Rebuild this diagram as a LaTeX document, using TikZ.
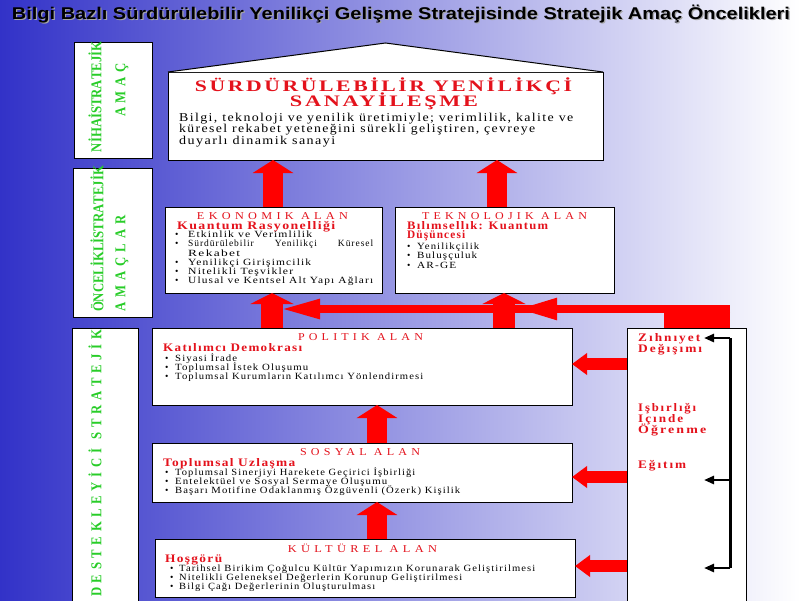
\documentclass[tikz,border=0pt]{standalone}
\usepackage{fontspec}
\usepackage{graphicx}
\setmainfont{Liberation Serif}
\newfontfamily\headsans{Liberation Sans}
\newfontfamily\bodyfont[LetterSpace=10]{Liberation Serif}
\newfontfamily\boxttlfont[LetterSpace=35]{Liberation Serif}
\newfontfamily\subfont[LetterSpace=10]{Liberation Serif}
\newfontfamily\bigfont[LetterSpace=12]{Liberation Serif}
\newfontfamily\rbfont[LetterSpace=15]{Liberation Serif}
\newfontfamily\greenfont{Liberation Serif}
\usetikzlibrary{arrows.meta}
\definecolor{bgblue}{RGB}{50,50,200}
\definecolor{boxred}{RGB}{228,18,28}
\definecolor{arrred}{RGB}{255,0,0}
\definecolor{vgreen}{RGB}{40,205,40}
\newcommand{\bulx}[1][13pt]{\makebox[#1][l]{\textbullet}}
\newcommand{\lsk}{\lineskiplimit=-20pt\relax}
\newcommand{\fw}[2]{\resizebox{#1}{\height}{#2}}
\newcommand{\vspread}[2]{\scalebox{0.85}[1]{\makebox[#1][s]{#2}}}
\begin{document}
\begin{tikzpicture}[x=1pt,y=-1pt,
  box/.style={draw=black, line width=1pt, fill=white, inner sep=0pt, outer sep=0pt, anchor=north west},
  ttl/.style={text=boxred, font=\boxttlfont\fontsize{10.5}{12}\selectfont, inner sep=0pt, anchor=base},
  sub/.style={text=boxred, font=\subfont\bfseries\fontsize{11.5}{11.5}\selectfont, inner sep=0pt, anchor=base west},
  lst/.style={font=\bodyfont\fontsize{9.5}{9.2}\selectfont\lsk, align=left, inner sep=0pt, anchor=north west},
  rbt/.style={text=boxred, font=\rbfont\bfseries\fontsize{11.5}{11.5}\selectfont, inner sep=0pt, anchor=base west},
  vtxt/.style={text=vgreen, font=\greenfont\bfseries\fontsize{15}{15}\selectfont, rotate=90, inner sep=0pt},
  bigup/.style={draw=arrred, line width=20pt, -{Triangle[width=40pt,length=13pt]}},
  bigupb/.style={draw=arrred, line width=22pt, -{Triangle[width=43pt,length=11pt]}},
  sidearrow/.style={draw=arrred, line width=12pt, -{Triangle[width=21pt,length=15pt]}},
  bkarrow/.style={draw=black, line width=2.5pt, -{Triangle[width=8pt,length=10pt]}},
  titlefont/.style={font=\headsans\bfseries\fontsize{17}{17}\selectfont, inner sep=0pt, anchor=base}
]
\useasboundingbox (0,0) rectangle (800,600);
\shade[left color=bgblue, right color=white] (0,0) rectangle (800,600);

% title with light shadow
\node[titlefont, text=black!35] (titlesh) at (402.2,20.2) {\fw{778pt}{Bilgi Bazlı Sürdürülebilir Yenilikçi Gelişme Stratejisinde Stratejik Amaç Öncelikleri}};
\node[titlefont, text=black] (title) at (401,19) {\fw{778pt}{Bilgi Bazlı Sürdürülebilir Yenilikçi Gelişme Stratejisinde Stratejik Amaç Öncelikleri}};

% left green boxes
\node[box, minimum width=78pt, minimum height=116pt] (lb1) at (74,42) {};
\node[vtxt] (lb1a) at (95,98.5) {\vspread{126pt}{N\hfil İ\hfil H\hfil A\hfil İ\hfil\hfil S\hfil T\hfil R\hfil A\hfil T\hfil E\hfil J\hfil İ\hfil K}};
\node[vtxt] (lb1b) at (122,90) {\vspread{63.5pt}{A\hfil M\hfil A\hfil Ç}};

\node[box, minimum width=79pt, minimum height=149pt] (lb2) at (73,168) {};
\node[vtxt] (lb2a) at (97,241) {\vspread{167pt}{Ö\hfil N\hfil C\hfil E\hfil L\hfil İ\hfil K\hfil L\hfil İ\hfil\hfil S\hfil T\hfil R\hfil A\hfil T\hfil E\hfil J\hfil İ\hfil K}};
\node[vtxt] (lb2b) at (122,263.5) {\vspread{114pt}{A\hfil M\hfil A\hfil Ç\hfil L\hfil A\hfil R}};

\node[box, minimum width=66pt, minimum height=280pt] (lb3) at (72,328) {};
\node[vtxt] (lb3a) at (95,463.5) {\vspread{314pt}{D\hfil E\hfil S\hfil T\hfil E\hfil K\hfil L\hfil E\hfil Y\hfil İ\hfil C\hfil İ\hfil\hfil S\hfil T\hfil R\hfil A\hfil T\hfil E\hfil J\hfil İ\hfil K}};

% top box (house)
\node[box, minimum width=435pt, minimum height=88pt] (top) at (168,72) {};
\filldraw[fill=white, draw=black, line width=1pt] (top.north west) -- ([yshift=29pt]top.north) -- (top.north east);
\node[text=boxred, font=\bigfont\bfseries\fontsize{16}{16}\selectfont, inner sep=0pt, anchor=base] (tt1) at (383.5,91) {\fw{377pt}{SÜRDÜRÜLEBİLİR YENİLİKÇİ}};
\node[text=boxred, font=\bigfont\bfseries\fontsize{16}{16}\selectfont, inner sep=0pt, anchor=base] (tt2) at (384,106) {\fw{188pt}{SANAYİLEŞME}};
\node[font=\bodyfont\fontsize{12}{11.7}\selectfont\lsk, align=left, inner sep=0pt, anchor=north west] (tbody) at (179,111) {\rule{0pt}{10pt}\fw{394pt}{Bilgi, teknoloji ve yenilik üretimiyle; verimlilik, kalite ve}\\
\fw{356pt}{küresel rekabet yeteneğini sürekli geliştiren, çevreye}\\
\fw{156pt}{duyarlı dinamik sanayi}};

% ekonomik
\node[box, minimum width=217pt, minimum height=86pt] (eko) at (165,207) {};
\node[ttl] (ekot) at (272.5,219.5) {\fw{151pt}{EKONOMIK ALAN}};
\node[sub] (ekos) at (177,229) {\fw{158pt}{Kuantum Rasyonelliği}};
\node[lst] (ekol) at (175,228.5) {\rule{0pt}{9pt}\bulx\fw{124pt}{Etkinlik ve Verimlilik}\\
\bulx\makebox[185pt][s]{Sürdürülebilir\hfill Yenilikçi\hfill Küresel}\\
\hspace*{13pt}\fw{52pt}{Rekabet}\\
\bulx\fw{123pt}{Yenilikçi Girişimcilik}\\
\bulx\fw{105pt}{Nitelikli Teşvikler}\\
\bulx\fw{185pt}{Ulusal ve Kentsel Alt Yapı Ağları}};

% teknolojik
\node[box, minimum width=219pt, minimum height=86pt] (tek) at (395,207) {};
\node[ttl] (tekt) at (504.5,219.5) {\fw{165pt}{TEKNOLOJIK ALAN}};
\node[sub] (teks1) at (407,229) {\fw{141pt}{Bılımsellık: Kuantum}};
\node[sub] (teks2) at (407,238.5) {\fw{58pt}{Düşüncesi}};
\node[lst, font=\bodyfont\fontsize{9.5}{9.5}\selectfont\lsk] (tekl) at (407,240) {\rule{0pt}{9pt}\bulx[10pt]\fw{62pt}{Yenilikçilik}\\
\bulx[10pt]\fw{60pt}{Buluşçuluk}\\
\bulx[10pt]\fw{39pt}{AR-GE}};

% politik
\node[box, minimum width=420pt, minimum height=77pt] (pol) at (152,328) {};
\node[ttl] (polt) at (360.5,340.7) {\fw{125pt}{POLITIK ALAN}};
\node[sub] (pols) at (163,351) {\fw{139pt}{Katılımcı Demokrası}};
\node[lst, font=\bodyfont\fontsize{9.5}{9}\selectfont\lsk] (poll) at (165,352) {\rule{0pt}{9pt}\bulx[10pt]\fw{62pt}{Siyasi İrade}\\
\bulx[10pt]\fw{133pt}{Toplumsal İstek Oluşumu}\\
\bulx[10pt]\fw{248pt}{Toplumsal Kurumların Katılımcı Yönlendirmesi}};

% sosyal
\node[box, minimum width=420pt, minimum height=59pt] (sos) at (152,443) {};
\node[ttl] (sost) at (360,455) {\fw{120pt}{SOSYAL ALAN}};
\node[sub] (soss) at (163,466) {\fw{132pt}{Toplumsal Uzlaşma}};
\node[lst, font=\bodyfont\fontsize{9.5}{9}\selectfont\lsk] (sosl) at (165,466) {\rule{0pt}{9pt}\bulx[10pt]\fw{240pt}{Toplumsal Sinerjiyi Harekete Geçirici İşbirliği}\\
\bulx[10pt]\fw{212pt}{Entelektüel ve Sosyal Sermaye Oluşumu}\\
\bulx[10pt]\fw{285pt}{Başarı Motifine Odaklanmış Özgüvenli (Özerk) Kişilik}};

% kulturel
\node[box, minimum width=420pt, minimum height=58pt] (kul) at (155,539) {};
\node[ttl] (kult) at (362.5,552) {\fw{149pt}{KÜLTÜREL ALAN}};
\node[sub] (kuls) at (165,562) {\fw{57pt}{Hoşgörü}};
\node[lst, font=\bodyfont\fontsize{9.5}{9}\selectfont\lsk] (kull) at (170,562) {\rule{0pt}{9pt}\bulx[9pt]\fw{356pt}{Tarihsel Birikim Çoğulcu Kültür Yapımızın Korunarak Geliştirilmesi}\\
\bulx[9pt]\fw{283pt}{Nitelikli Geleneksel Değerlerin Korunup Geliştirilmesi}\\
\bulx[9pt]\fw{196pt}{Bilgi Çağı Değerlerinin Oluşturulması}};

% right box
\node[box, minimum width=119pt, minimum height=280pt] (rb) at (627,328) {};
\node[rbt] (rz1) at (638,341) {\fw{62pt}{Zıhnıyet}};
\node[rbt] (rz2) at (638,352) {\fw{64pt}{Değışımı}};
\node[rbt] (rz3) at (638,411) {\fw{58pt}{Işbırlığı}};
\node[rbt] (rz4) at (638,422) {\fw{45pt}{Içınde}};
\node[rbt] (rz5) at (638,433) {\fw{68pt}{Öğrenme}};
\node[rbt] (rz6) at (638,468) {\fw{48pt}{Eğıtım}};

% black bracket
\coordinate (k1) at (730,338);
\coordinate (k2) at (730,480);
\coordinate (k3) at (730,568);
\coordinate (k1e) at (704,338);
\coordinate (k2e) at (704,480);
\coordinate (k3e) at (704,568);
\draw[line width=3pt] (k1) -- (k3);
\draw[bkarrow] (k1) -- (k1e);
\draw[bkarrow] (k2) -- (k2e);
\draw[bkarrow] (k3) -- (k3e);

% vertical red arrows
\coordinate (xa) at (273,0);
\coordinate (xb) at (497,0);
\coordinate (xc) at (272,0);
\coordinate (xd) at (504,0);
\coordinate (xe) at (377,0);
\draw[bigup] (eko.north -| xa) -- (top.south -| xa);
\draw[bigup] (tek.north -| xb) -- (top.south -| xb);
\draw[bigupb] (pol.north -| xc) -- (eko.south -| xc);
\draw[bigupb] (pol.north -| xd) -- (tek.south -| xd);
\draw[bigup] (sos.north -| xe) -- (pol.south -| xe);
\draw[bigup] (kul.north -| xe) -- (sos.south -| xe);

% side red arrows
\coordinate (ya) at (0,364);
\coordinate (yb) at (0,477);
\coordinate (yc) at (0,566);
\draw[sidearrow] (rb.west |- ya) -- (pol.east |- ya);
\draw[sidearrow] (rb.west |- yb) -- (sos.east |- yb);
\draw[sidearrow] (rb.west |- yc) -- (kul.east |- yc);

% top red connector
\coordinate (hr) at (730,309);
\coordinate (hl) at (280,309);
\coordinate (hs) at (600,309);
\coordinate (hm) at (517,309);
\coordinate (hc) at (664,305);
\fill[arrred] (hc) rectangle (hr |- rb.north);
\draw[draw=arrred, line width=8pt, -{Triangle[width=18pt,length=40pt]}] (hr) -- (hl);
\draw[draw=arrred, line width=8pt, -{Triangle[width=20pt,length=40pt]}] (hs) -- (hm);
\end{tikzpicture}
\end{document}
